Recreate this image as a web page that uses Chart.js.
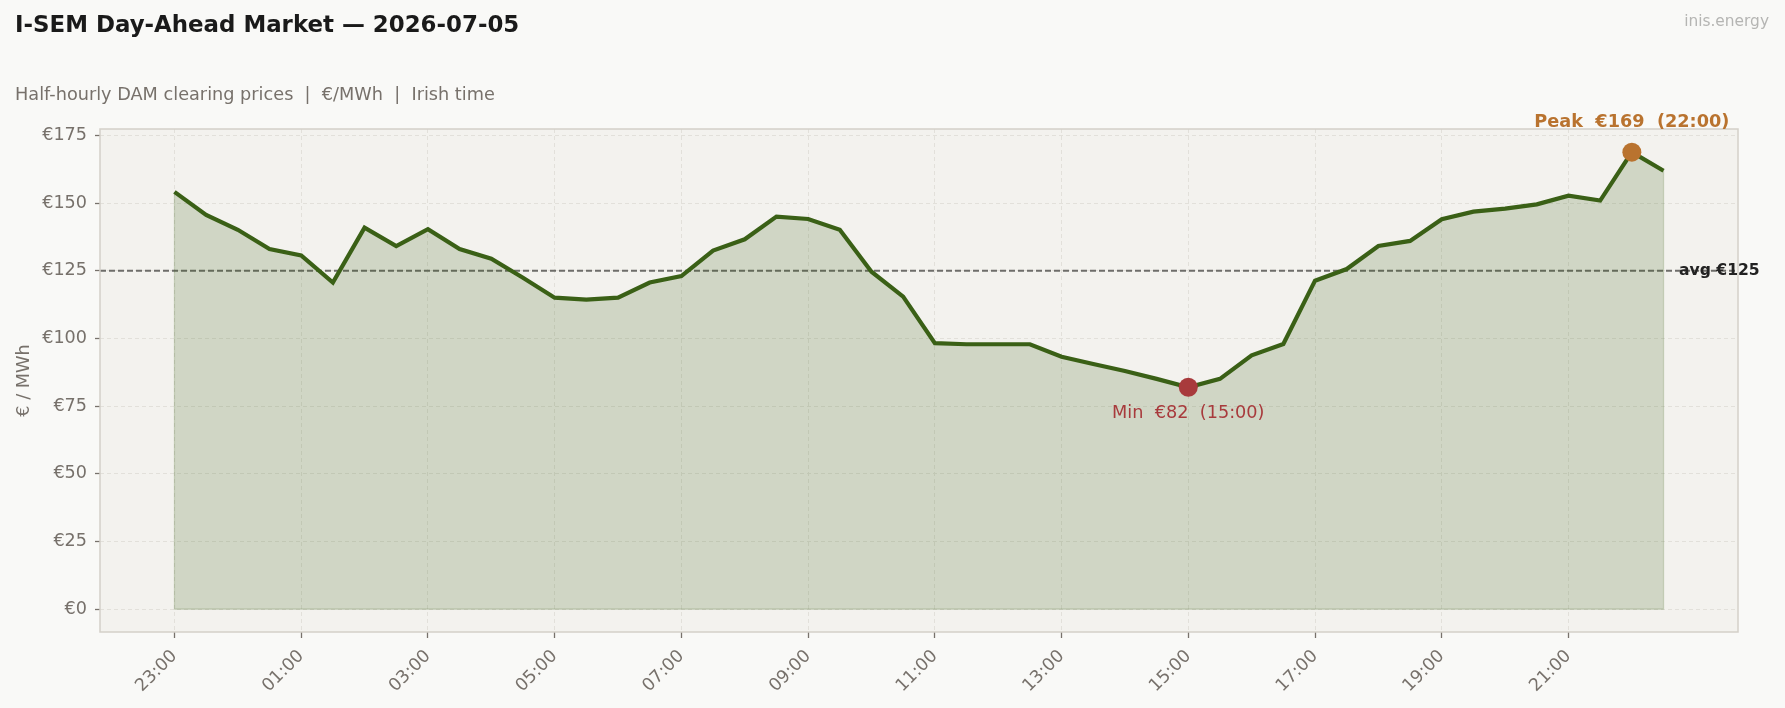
<!DOCTYPE html>
<html>
<head>
<meta charset="utf-8">
<script src="https://cdn.jsdelivr.net/npm/chart.js@4.4.1/dist/chart.umd.min.js"></script>
<style>
html, body { margin: 0; padding: 0; background: #f9f9f7; }
canvas { display: block; }
</style>
</head>
<body>
<canvas id="dam" width="1785" height="708"></canvas>
<script>
// half-hourly slots, Irish time
var times = ['23:00','23:30','00:00','00:30','01:00','01:30','02:00','02:30','03:00','03:30',
             '04:00','04:30','05:00','05:30','06:00','06:30','07:00','07:30','08:00','08:30',
             '09:00','09:30','10:00','10:30','11:00','11:30','12:00','12:30','13:00','13:30',
             '14:00','14:30','15:00','15:30','16:00','16:30','17:00','17:30','18:00','18:30',
             '19:00','19:30','20:00','20:30','21:00','21:30','22:00','22:30'];
// DAM clearing prices, EUR/MWh
var prices = [154.2,145.7,140.2,133.1,130.7,120.7,141.0,134.2,140.4,133.1,
              129.5,122.5,115.1,114.4,115.1,120.7,123.1,132.5,136.7,145.1,
              144.2,140.2,124.7,115.5,98.3,97.9,97.9,97.9,93.3,90.6,
              88.0,85.1,82.0,85.1,93.8,98.0,121.4,125.7,134.2,136.1,
              144.1,146.9,148.0,149.6,152.8,151.0,168.9,162.0];
var xTicks = [0,4,8,12,16,20,24,28,32,36,40,44];
var yTicks = [0,25,50,75,100,125,150,175];

var GREEN = '#3a6016';
var PEAK = '#b9732f';
var LOW = '#a83a3c';
var GREY = '#77716b';

var pts = prices.map(function(p, i) { return {x: i, y: p}; });
var avg = prices.reduce(function(s, v) { return s + v; }, 0) / prices.length;
var iMax = prices.indexOf(Math.max.apply(null, prices));
var iMin = prices.indexOf(Math.min.apply(null, prices));
var xMin = -2.35, xMax = 49.35;

var decor = {
    id: 'decor',
    beforeDraw: function(chart) {
        var ctx = chart.ctx, a = chart.chartArea;
        ctx.save();
        ctx.fillStyle = '#f9f9f7';
        ctx.fillRect(0, 0, chart.width, chart.height);
        ctx.fillStyle = '#f3f2ee';
        ctx.fillRect(a.left, a.top, a.right - a.left, a.bottom - a.top);
        ctx.restore();
    },
    afterDatasetsDraw: function(chart) {
        var ctx = chart.ctx, a = chart.chartArea;
        var xs = chart.scales.x, ys = chart.scales.y;
        ctx.save();
        // outline of the filled area
        ctx.strokeStyle = 'rgba(58,96,22,0.22)';
        ctx.lineWidth = 1.2;
        ctx.beginPath();
        ctx.moveTo(xs.getPixelForValue(0), ys.getPixelForValue(prices[0]));
        ctx.lineTo(xs.getPixelForValue(0), ys.getPixelForValue(0));
        ctx.lineTo(xs.getPixelForValue(prices.length - 1), ys.getPixelForValue(0));
        ctx.lineTo(xs.getPixelForValue(prices.length - 1), ys.getPixelForValue(prices[prices.length - 1]));
        ctx.stroke();
        // plot frame
        ctx.strokeStyle = '#d4d0c9';
        ctx.lineWidth = 1.5;
        ctx.strokeRect(a.left, a.top, a.right - a.left, a.bottom - a.top);

        // peak / min / avg labels
        ctx.textAlign = 'center';
        ctx.textBaseline = 'alphabetic';
        ctx.fillStyle = PEAK;
        ctx.font = 'bold 17.7px "DejaVu Sans"';
        ctx.fillText('Peak  €' + Math.round(prices[iMax]) + '  (' + times[iMax] + ')',
            xs.getPixelForValue(iMax), ys.getPixelForValue(prices[iMax]) - 25);
        ctx.fillStyle = LOW;
        ctx.font = '17.7px "DejaVu Sans"';
        ctx.fillText('Min  €' + Math.round(prices[iMin]) + '  (' + times[iMin] + ')',
            xs.getPixelForValue(iMin), ys.getPixelForValue(prices[iMin]) + 31);
        ctx.textAlign = 'left';
        ctx.textBaseline = 'middle';
        ctx.fillStyle = '#222222';
        ctx.font = 'bold 15.6px "DejaVu Sans"';
        ctx.fillText('avg €' + Math.round(avg), 1679, ys.getPixelForValue(avg));
        ctx.restore();
    },
    afterDraw: function(chart) {
        var ctx = chart.ctx, a = chart.chartArea;
        ctx.save();
        ctx.textBaseline = 'alphabetic';
        ctx.textAlign = 'left';
        ctx.fillStyle = '#1a1a1a';
        ctx.font = 'bold 22.9px "DejaVu Sans"';
        ctx.fillText('I-SEM Day-Ahead Market — 2026-07-05', 15, 32);
        ctx.fillStyle = GREY;
        ctx.font = '17.7px "DejaVu Sans"';
        ctx.fillText('Half-hourly DAM clearing prices  |  €/MWh  |  Irish time', 15, 100);
        ctx.textAlign = 'right';
        ctx.fillStyle = '#b5b5b3';
        ctx.font = '15.4px "DejaVu Sans"';
        ctx.fillText('inis.energy', 1769, 26);
        // y axis title
        ctx.translate(24, (a.top + a.bottom) / 2);
        ctx.rotate(-Math.PI / 2);
        ctx.textAlign = 'center';
        ctx.textBaseline = 'middle';
        ctx.fillStyle = GREY;
        ctx.font = '17.7px "DejaVu Sans"';
        ctx.fillText('€ / MWh', 0, 0);
        ctx.restore();
    }
};

var ctx = document.getElementById('dam').getContext('2d');
new Chart(ctx, {
    type: 'line',
    data: {
        datasets: [{
            label: 'Peak',
            data: [{x: iMax, y: prices[iMax]}],
            showLine: false,
            pointRadius: 9.5,
            pointHoverRadius: 9.5,
            pointBackgroundColor: PEAK,
            pointBorderWidth: 0,
            order: 0
        }, {
            label: 'Min',
            data: [{x: iMin, y: prices[iMin]}],
            showLine: false,
            pointRadius: 9.5,
            pointHoverRadius: 9.5,
            pointBackgroundColor: LOW,
            pointBorderWidth: 0,
            order: 0
        }, {
            label: 'DAM price',
            data: pts,
            borderColor: GREEN,
            borderWidth: 4.2,
            backgroundColor: 'rgba(58,96,22,0.19)',
            fill: 'origin',
            tension: 0,
            pointRadius: 0,
            order: 1
        }, {
            label: 'Average',
            data: [{x: xMin, y: avg}, {x: xMax, y: avg}],
            borderColor: '#6e6d6a',
            borderWidth: 2,
            borderDash: [6, 3],
            pointRadius: 0,
            fill: false,
            order: 2
        }]
    },
    options: {
        responsive: false,
        devicePixelRatio: 1,
        animation: false,
        layout: { padding: { top: 129, left: 0, right: 47, bottom: 0 } },
        plugins: {
            legend: { display: false },
            tooltip: { enabled: false }
        },
        scales: {
            x: {
                type: 'linear',
                min: xMin,
                max: xMax,
                afterBuildTicks: function(s) {
                    s.ticks = xTicks.map(function(v) { return {value: v}; });
                },
                afterFit: function(s) { s.height = 76; },
                ticks: {
                    autoSkip: false,
                    maxRotation: 45,
                    minRotation: 45,
                    padding: 8,
                    color: GREY,
                    font: { family: 'DejaVu Sans', size: 17.5 },
                    callback: function(v) { return times[v]; }
                },
                grid: {
                    color: '#e2e0da',
                    lineWidth: 1,
                    tickLength: 6,
                    tickColor: '#77716b',
                    tickWidth: 1.3
                },
                border: { display: false, dash: [4, 3] }
            },
            y: {
                min: -8.45,
                max: 177.45,
                afterBuildTicks: function(s) {
                    s.ticks = yTicks.map(function(v) { return {value: v}; });
                },
                afterFit: function(s) { s.width = 100; },
                ticks: {
                    padding: 8,
                    color: GREY,
                    font: { family: 'DejaVu Sans', size: 17.6 },
                    callback: function(v) { return '€' + v; }
                },
                grid: {
                    color: '#e2e0da',
                    lineWidth: 1,
                    tickLength: 5,
                    tickColor: '#77716b',
                    tickWidth: 1.3
                },
                border: { display: false, dash: [4, 3] }
            }
        }
    },
    plugins: [decor]
});
</script>
</body>
</html>
